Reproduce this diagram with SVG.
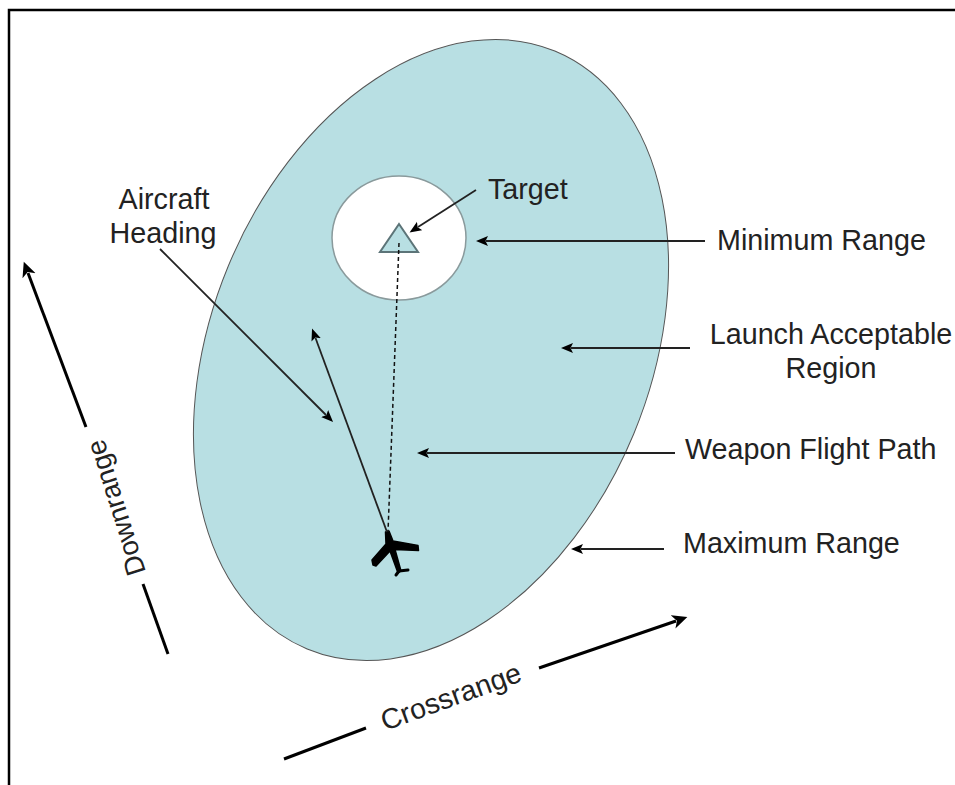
<svg xmlns="http://www.w3.org/2000/svg" width="955" height="785" viewBox="0 0 955 785">
<style>
text{font-family:"Liberation Sans",Arial,sans-serif;font-size:28.700px;fill:#222}
.c{stroke:#222;stroke-width:1.800;fill:none}
.b{stroke:#000;stroke-width:3;fill:none}
</style>
<defs>
<marker id="a" markerUnits="userSpaceOnUse" markerWidth="14" markerHeight="12" refX="2" refY="5" orient="auto"><path d="M12 5L0 0L2.500 5L0 10Z" fill="#000"/></marker>
<marker id="l" markerUnits="userSpaceOnUse" markerWidth="18" markerHeight="16" refX="3" refY="7" orient="auto"><path d="M15 7L0 0L4 7L0 14Z" fill="#000"/></marker>
</defs>
<rect width="955" height="785" fill="#fff"/>
<path d="M9 785V10H955" fill="none" stroke="#000" stroke-width="2.500"/>
<g id="max-range"><ellipse cx="431" cy="350" rx="323.600" ry="219.400" transform="rotate(-67.500 431 350)" fill="#b8dfe3" stroke="#555" stroke-width="1"/></g>
<g id="min-range"><ellipse cx="399" cy="238" rx="67" ry="62" fill="#fff" stroke="#8a9a9c" stroke-width="1.500"/></g>
<g id="target"><path d="M399 224L418 252H380Z" fill="#b8dfe3" stroke="#5c7478" stroke-width="2"/><text x="488" y="199">Target</text></g>
<g id="aircraft">
<path d="M385.500 532L389 531L393 541L418 545.500L418.500 550.500L395 549.500L401 571L398 573L390 551L376 566L373 565L372 560L386 544Z" fill="#000" stroke="#000" stroke-width="1.500" stroke-linejoin="round"/>
<path d="M396 575L399 571L408 570" stroke="#000" stroke-width="3" stroke-linecap="round" stroke-linejoin="round" fill="none"/>
</g>
<g id="labels">
<text x="164" y="209" text-anchor="middle">Aircraft</text><text x="163" y="243" text-anchor="middle">Heading</text>
<text x="717" y="250">Minimum Range</text>
<text x="831" y="344" text-anchor="middle">Launch Acceptable</text><text x="831" y="378" text-anchor="middle">Region</text>
<text x="685" y="459">Weapon Flight Path</text>
<text x="683" y="553">Maximum Range</text>
<text transform="translate(146 572) rotate(-107.500)" style="font-size:27.500px">Downrange</text>
<text transform="translate(385 731) rotate(-20)" style="font-size:28.500px">Crossrange</text>
</g>
<g id="connectors">
<path class="c" d="M476 190L418 227" marker-end="url(#a)"/>
<path class="c" d="M705 241H486" marker-end="url(#a)"/>
<path class="c" d="M690 348H571" marker-end="url(#a)"/>
<path class="c" d="M675 453H427" marker-end="url(#a)"/>
<path class="c" d="M664 549H581" marker-end="url(#a)"/>
<path class="c" d="M160 249L326 415" marker-end="url(#a)"/>
<path class="c" d="M387 532L315.500 338" marker-end="url(#a)"/>
<path d="M399 243L388 532" fill="none" stroke="#111" stroke-width="1.500" stroke-dasharray="4 3"/>
<path class="b" d="M86 427L28 273" marker-end="url(#l)"/>
<path class="b" d="M168 654L143 584"/>
<path class="b" d="M284 759L366 728"/>
<path class="b" d="M539 668L676 621" marker-end="url(#l)"/>
</g>
</svg>
